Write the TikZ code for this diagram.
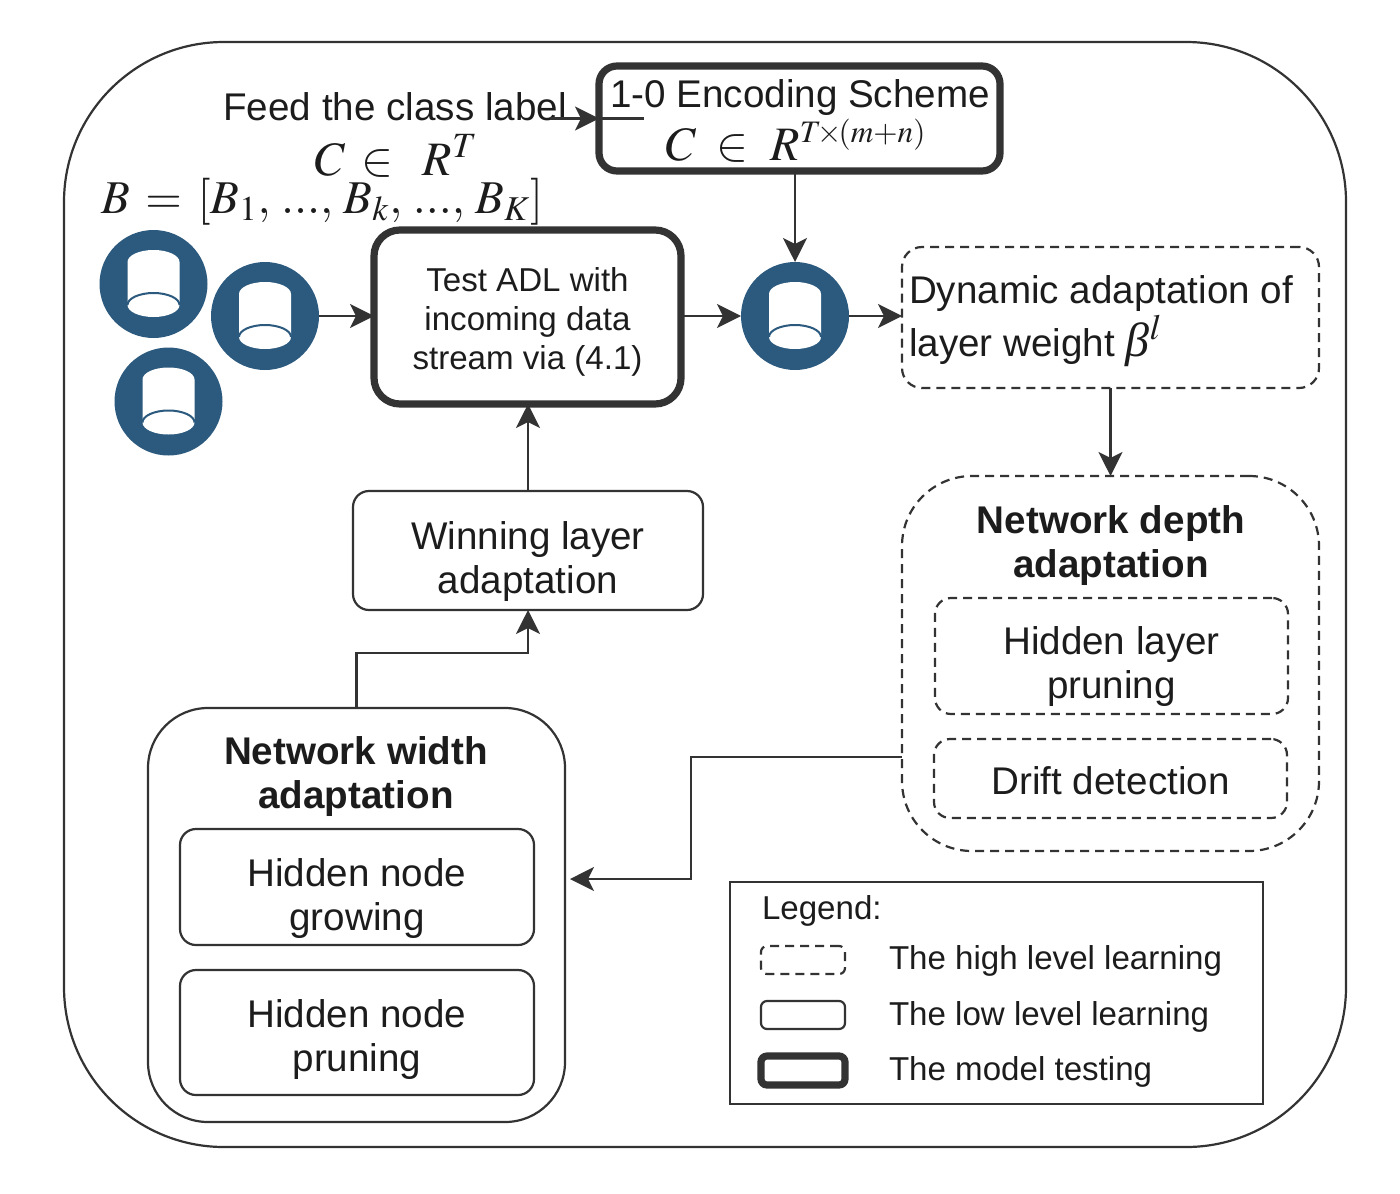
\documentclass[tikz,border=0pt]{standalone}
\usepackage{mathptmx}
\usepackage[no-math]{fontspec}
\setmainfont{Liberation Sans}
\newfontfamily\betafont{Liberation Serif}
\usepackage{tikz}
\usetikzlibrary{arrows.meta,positioning}
\definecolor{linegray}{HTML}{333333}
\definecolor{inkgray}{HTML}{1C1C1C}
\definecolor{dbblue}{HTML}{2B5A7E}
\newcommand{\bigtxt}{\fontsize{19.3}{22}\selectfont}
\newcommand{\smalltxt}{\fontsize{16.55}{19.3}\selectfont}
\newcommand{\mathtxt}{\fontsize{24}{26}\selectfont}

\begin{document}
\begin{tikzpicture}[
    x=0.5pt,y=-0.5pt,
    every node/.style={font=\bigtxt,text=inkgray,align=center,inner sep=0pt,outer sep=0pt},
    lowbox/.style={draw=linegray,line width=1.1pt,rounded corners=8pt},
    highbox/.style={lowbox,dashed,dash pattern=on 4.5pt off 3pt},
    testbox/.style={draw=linegray,line width=3.6pt,rounded corners=13pt},
    dbnode/.style={circle,fill=dbblue,minimum size=54pt},
    arr/.style={-{Stealth[length=12pt,width=12pt,inset=3pt]},draw=linegray,line width=1.1pt},
    plain/.style={draw=linegray,line width=1.1pt},
    legtxt/.style={font=\smalltxt,anchor=west},
    dbicon/.pic={
        \fill[white] (-26,-22) arc[start angle=180,end angle=0,x radius=13pt,y radius=6pt]
            -- (26,21) arc[start angle=0,end angle=-180,x radius=13pt,y radius=6pt] -- cycle;
        \draw[dbblue,line width=1pt] (-26,21) arc[start angle=180,end angle=0,x radius=13pt,y radius=6pt];
    }
]
\useasboundingbox (0,0) rectangle (1400,1193);

% Outer frame
\node[draw=linegray,line width=1.1pt,rounded corners=80pt,minimum width=641pt,minimum height=552.5pt] (frame) at (705,594.5) {};

% Top row: labels and encoding
\node (feed) at (395,107) {Feed the class label};
\node[font=\mathtxt,anchor=base west] (clabel) at (315,175) {$C\hspace{2.5pt}\in\;\hspace{1.5pt}\,R^{T}$};
\node[font=\fontsize{23.5}{26}\selectfont,anchor=base west] (batch) at (101,213) {$B\,=\,[B_1,\,...,\,B_k,\,...,\,B_K]$};
\node[testbox,minimum width=200.5pt,minimum height=52.5pt,rounded corners=9pt] (enc) at (799.5,118.5) {};
\node (enctitle) at (800,98) {1-0 Encoding Scheme};
\node[font=\mathtxt,anchor=base west] (encmath) at (666,160) {$C\hspace{4.5pt}\in\;\hspace{0.5pt}R^{\scalebox{0.88}{$\scriptstyle T\!\times\!(m+n)$}}$};
\coordinate (feedend) at (550,118.5);
\coordinate (encend) at (644,118.5);

% Data stream and testing
\node[testbox,minimum width=153.5pt,minimum height=87pt] (test) at (527.5,317) {};
\node[font=\smalltxt] (testtxt) at (527.5,322) {Test ADL with\\incoming data\\stream via (4.1)};
\node[dbnode] (dba) at (153.5,284) {};
\node[dbnode] (dbb) at (265,316) {};
\node[dbnode] (dbc) at (168.5,401.5) {};
\node[dbnode] (dbd) at (795,316) {};
\foreach \dbname in {dba,dbb,dbc,dbd}
    \pic at (\dbname) {dbicon};

% Right column
\node[highbox,minimum width=208.5pt,minimum height=70.5pt,rounded corners=10pt] (dyn) at (1110.5,317.5) {};
\node[anchor=west] (dyntop) at (909,294) {Dynamic adaptation of};
\node[anchor=west] (dynbot) at (909,341) {layer weight \mbox{\fontsize{24}{26}\selectfont\betafont\itshape β$^{l}$}};
\node[highbox,minimum width=208.5pt,minimum height=187.5pt,rounded corners=35pt] (depth) at (1110.5,663.5) {};
\node[font=\bfseries\bigtxt] (depthtitle) at (1111,546) {Network depth\\adaptation};
\node[highbox,minimum width=176.5pt,minimum height=58pt] (hlayer) at (1111.5,656) {};
\node (hlayertxt) at (1111.5,667) {Hidden layer\\pruning};
\node[highbox,minimum width=176.5pt,minimum height=39.5pt] (drift) at (1110.5,778.5) {};
\node (drifttxt) at (1110.5,781) {Drift detection};

% Left column
\node[lowbox,minimum width=175pt,minimum height=59.5pt] (win) at (528,550.5) {};
\node (wintxt) at (528,562) {Winning layer\\adaptation};
\node[lowbox,minimum width=208.5pt,minimum height=207pt,rounded corners=30pt] (width) at (356.5,915) {};
\node[font=\bfseries\bigtxt] (widthtitle) at (356,777) {Network width\\adaptation};
\node[lowbox,minimum width=177pt,minimum height=58pt] (grow) at (357,887) {};
\node (growtxt) at (357,899) {Hidden node\\growing};
\node[lowbox,minimum width=177pt,minimum height=62.5pt] (prune) at (357,1032.5) {};
\node (prunetxt) at (357,1040) {Hidden node\\pruning};

% Legend
\node[draw=linegray,line width=1.1pt,minimum width=266.5pt,minimum height=111pt] (legend) at (996.5,993) {};
\node[font=\smalltxt,anchor=west] (legtitle) at (762,911) {Legend:};
\node[highbox,rounded corners=3pt,minimum width=42pt,minimum height=14pt] (keyhigh) at (803,960) {};
\node[lowbox,rounded corners=3pt,minimum width=42pt,minimum height=14pt] (keylow) at (803,1015) {};
\node[testbox,rounded corners=3pt,minimum width=42pt,minimum height=14.5pt] (keytest) at (803,1070.5) {};
\node[legtxt] (txthigh) at (889,961) {The high level learning};
\node[legtxt] (txtlow) at (889,1017) {The low level learning};
\node[legtxt] (txttest) at (889,1072) {The model testing};

% Connectors
\draw[arr] (feedend) -- (enc.west);
\draw[plain] (enc.west) -- (encend);
\draw[arr] (dbb.east) -- (dbb.east -| test.west);
\draw[arr] (test.east |- dbd) -- (dbd.west);
\draw[arr] (enc.south -| dbd) -- (dbd.north);
\draw[arr] (dbd.east) -- (dbd.east -| dyn.west);
\draw[arr] (dyn.south) -- (depth.north);
\draw[arr] (win.north) -- (win.north |- test.south);
\draw[arr] (width.north) |- (528,653) -- (win.south);
\draw[arr] (depth.west |- 0,757) -| (691,879) -- (570,879);
\end{tikzpicture}
\end{document}
